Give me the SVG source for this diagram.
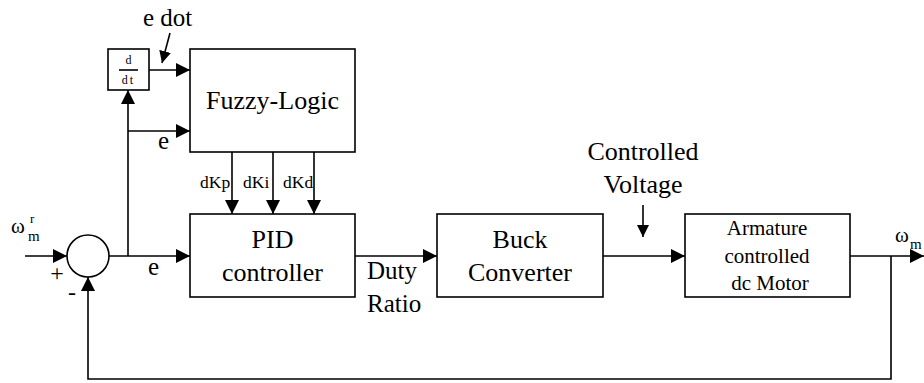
<svg xmlns="http://www.w3.org/2000/svg" width="924" height="383" viewBox="0 0 924 383">
  <defs>
    <marker id="arr" viewBox="0 0 14 14" refX="14" refY="7" markerWidth="14" markerHeight="14" markerUnits="userSpaceOnUse" orient="auto">
      <path d="M0,0 L14,7 L0,14 Z" fill="#000"/>
    </marker>
    <marker id="arrS" viewBox="0 0 12 12" refX="12" refY="6" markerWidth="12" markerHeight="12" markerUnits="userSpaceOnUse" orient="auto">
      <path d="M0,0 L12,6 L0,12 Z" fill="#000"/>
    </marker>
  </defs>
  <style>
    .box { fill: #fff; stroke: #000; stroke-width: 1.6; }
    .ln { fill: none; stroke: #000; stroke-width: 1.6; }
    text { font-family: "Liberation Serif", "DejaVu Serif", "Times New Roman", serif; fill: #000; }
    .big { font-size: 26px; text-anchor: middle; }
    .mid { font-size: 21px; text-anchor: middle; }
    .gain { font-size: 17.5px; }
  </style>
  <rect width="924" height="383" fill="#fff"/>

  <!-- connectors -->
  <g id="connectors">
    <path class="ln" d="M25,256 H67" marker-end="url(#arr)"/>
    <path class="ln" d="M109,256 H190" marker-end="url(#arr)"/>
    <path class="ln" d="M128,256 V90" marker-end="url(#arr)"/>
    <path class="ln" d="M128,131 H190" marker-end="url(#arr)"/>
    <path class="ln" d="M149,70 H190" marker-end="url(#arr)"/>
    <path class="ln" d="M170,33 L162,63" marker-end="url(#arrS)"/>
    <path class="ln" d="M232,152 V214" marker-end="url(#arr)"/>
    <path class="ln" d="M273,152 V214" marker-end="url(#arr)"/>
    <path class="ln" d="M314,152 V214" marker-end="url(#arr)"/>
    <path class="ln" d="M355,256 H437" marker-end="url(#arr)"/>
    <path class="ln" d="M603,256 H685" marker-end="url(#arr)"/>
    <path class="ln" d="M643,205 V237" marker-end="url(#arrS)"/>
    <path class="ln" d="M850,256 H924" marker-end="url(#arr)"/>
    <path class="ln" d="M891,256 V379 H88 V277" marker-end="url(#arr)"/>
  </g>

  <!-- summing junction -->
  <g id="sum">
    <circle class="box" cx="88" cy="256" r="21"/>
    <text x="57" y="281" font-size="24" text-anchor="middle">+</text>
    <text x="72" y="300" font-size="24" text-anchor="middle">-</text>
  </g>

  <!-- derivative block -->
  <g id="deriv">
    <rect class="box" x="108" y="49" width="41" height="41"/>
    <text x="128.5" y="64" font-size="12" text-anchor="middle">d</text>
    <line class="ln" x1="119" y1="70" x2="138" y2="70" stroke-width="1"/>
    <text x="128.5" y="84" font-size="12" text-anchor="middle" letter-spacing="2">dt</text>
  </g>

  <g id="fuzzy">
    <rect class="box" x="190" y="49" width="165" height="103"/>
    <text class="big" x="272.5" y="109" font-size="27">Fuzzy-Logic</text>
  </g>

  <g id="pid">
    <rect class="box" x="190" y="214" width="165" height="83"/>
    <text class="big" x="272.5" y="248">PID</text>
    <text class="big" x="272.5" y="281">controller</text>
  </g>

  <g id="buck">
    <rect class="box" x="437" y="214" width="166" height="83"/>
    <text class="big" x="520" y="248">Buck</text>
    <text class="big" x="520" y="281">Converter</text>
  </g>

  <g id="motor">
    <rect class="box" x="685" y="214" width="165" height="83"/>
    <text class="mid" x="767" y="235">Armature</text>
    <text class="mid" x="767" y="263">controlled</text>
    <text class="mid" x="770" y="290">dc Motor</text>
  </g>

  <!-- signal labels -->
  <g id="labels">
    <text x="11" y="233" font-size="21">ω</text>
    <text x="30" y="223" font-size="13">r</text>
    <text x="28" y="241" font-size="15">m</text>
    <text x="143" y="26" font-size="25">e dot</text>
    <text x="158" y="149" font-size="25">e</text>
    <text x="148" y="275" font-size="25">e</text>
    <text class="gain" x="200" y="188">dKp</text>
    <text class="gain" x="243" y="188">dKi</text>
    <text class="gain" x="283" y="188">dKd</text>
    <text x="367" y="279" font-size="25">Duty</text>
    <text x="367" y="312" font-size="25">Ratio</text>
    <text class="big" x="643" y="160" font-size="25">Controlled</text>
    <text class="big" x="643" y="193" font-size="25">Voltage</text>
    <text x="895" y="242" font-size="21">ω</text>
    <text x="910" y="249" font-size="15">m</text>
  </g>
</svg>
